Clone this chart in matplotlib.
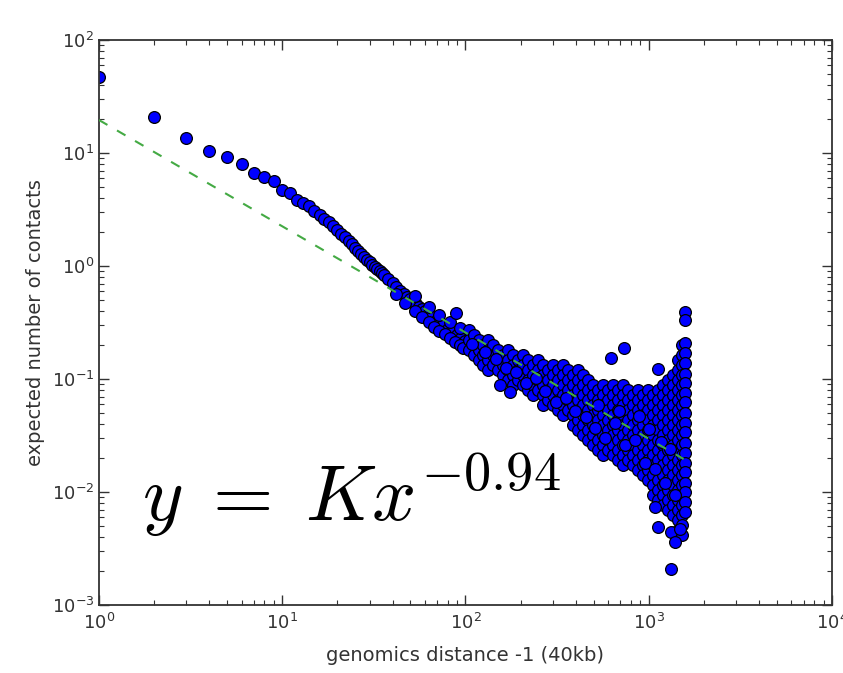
import matplotlib
matplotlib.use("Agg")
import matplotlib.pyplot as plt

# ---- data ----
head_x = [1, 2, 3, 4, 5, 6, 7, 8, 9, 10, 11, 12, 13, 14, 15, 16, 17, 18, 19, 20,
          21, 22, 23, 24, 25, 26, 27, 28, 29, 30, 31, 32, 33, 34, 35, 36, 38, 40,
          42, 44, 46, 48, 50, 52, 54, 56, 58, 60, 65, 70, 75, 80, 85, 90, 95, 100]
head_y = [46.8, 20.9, 13.5, 10.5, 9.27, 8.0, 6.65, 6.1, 5.65, 4.7, 4.4, 3.84, 3.61,
          3.37, 3.07, 2.83, 2.61, 2.45, 2.26, 2.08, 1.92, 1.81, 1.66, 1.57, 1.44,
          1.36, 1.28, 1.20, 1.13, 1.08, 1.02, 0.98, 0.94, 0.90, 0.87, 0.83, 0.77,
          0.71, 0.65, 0.60, 0.565, 0.53, 0.51, 0.48, 0.46, 0.43, 0.416, 0.40, 0.36,
          0.33, 0.30, 0.28, 0.27, 0.245, 0.23, 0.217]

spread_x = [42, 47, 53, 53, 58, 63, 63, 67, 72, 72, 77, 82, 82, 88, 93, 93, 97]
spread_y = [0.565, 0.471, 0.40, 0.543, 0.354, 0.319, 0.433, 0.288, 0.266, 0.368,
            0.25, 0.231, 0.319, 0.212, 0.20, 0.282, 0.188]

cloud_x = [104, 111, 118, 125, 133, 142, 151, 161, 171, 182, 194, 207, 220, 234,
           249, 265, 282, 301, 320, 341, 363, 386, 411, 438, 466, 496, 528, 562,
           598, 637, 679, 722, 769, 819, 871, 927, 988, 1051, 1119, 1191, 1268,
           1350, 1438, 1511, 1570]
cloud_y = [
    [0.271, 0.221, 0.181],
    [0.245, 0.200, 0.163],
    [0.221, 0.181, 0.147],
    [0.200, 0.163, 0.133],
    [0.221, 0.181, 0.147, 0.120],
    [0.200, 0.163, 0.133],
    [0.181, 0.147, 0.120],
    [0.163, 0.133, 0.108],
    [0.181, 0.147, 0.120, 0.098],
    [0.163, 0.133, 0.108, 0.0885],
    [0.147, 0.120, 0.098],
    [0.163, 0.133, 0.108, 0.0885],
    [0.147, 0.120, 0.098, 0.080],
    [0.133, 0.108, 0.0885, 0.0722],
    [0.147, 0.120, 0.098, 0.080],
    [0.133, 0.108, 0.0885, 0.0722, 0.0589],
    [0.120, 0.098, 0.080, 0.0652],
    [0.133, 0.108, 0.0885, 0.0722, 0.0589],
    [0.120, 0.098, 0.080, 0.0652, 0.0532],
    [0.133, 0.108, 0.0885, 0.0722, 0.0589, 0.048],
    [0.120, 0.098, 0.080, 0.0652, 0.0532],
    [0.108, 0.0885, 0.0722, 0.0589, 0.048, 0.0392],
    [0.120, 0.098, 0.080, 0.0652, 0.0532, 0.0434, 0.0354],
    [0.108, 0.0885, 0.0722, 0.0589, 0.048, 0.0392, 0.0319],
    [0.098, 0.080, 0.0652, 0.0532, 0.0434, 0.0354, 0.0288],
    [0.0885, 0.0722, 0.0589, 0.048, 0.0392, 0.0319, 0.0261],
    [0.080, 0.0652, 0.0532, 0.0434, 0.0354, 0.0288, 0.0235],
    [0.0885, 0.0722, 0.0589, 0.048, 0.0392, 0.0319, 0.0261, 0.0212],
    [0.080, 0.0652, 0.0532, 0.0434, 0.0354, 0.0288, 0.0235],
    [0.0885, 0.0722, 0.0589, 0.048, 0.0392, 0.0319, 0.0261, 0.0212],
    [0.080, 0.0652, 0.0532, 0.0434, 0.0354, 0.0288, 0.0235, 0.0192],
    [0.0885, 0.0722, 0.0589, 0.048, 0.0392, 0.0319, 0.0261, 0.0212, 0.0173],
    [0.080, 0.0652, 0.0532, 0.0434, 0.0354, 0.0288, 0.0235, 0.0192],
    [0.0722, 0.0589, 0.048, 0.0392, 0.0319, 0.0261, 0.0212, 0.0173],
    [0.080, 0.0652, 0.0532, 0.0434, 0.0354, 0.0288, 0.0235, 0.0192, 0.0157],
    [0.0722, 0.0589, 0.048, 0.0392, 0.0319, 0.0261, 0.0212, 0.0173, 0.0141],
    [0.080, 0.0652, 0.0532, 0.0434, 0.0354, 0.0288, 0.0235, 0.0192, 0.0157, 0.0128],
    [0.0722, 0.0589, 0.048, 0.0392, 0.0319, 0.0261, 0.0212, 0.0173, 0.0141, 0.0115,
     0.0094],
    [0.080, 0.0652, 0.0532, 0.0434, 0.0354, 0.0288, 0.0235, 0.0192, 0.0157, 0.0128,
     0.0104, 0.0085],
    [0.0885, 0.0722, 0.0589, 0.048, 0.0392, 0.0319, 0.0261, 0.0212, 0.0173, 0.0141,
     0.0115, 0.0094, 0.0077],
    [0.098, 0.080, 0.0652, 0.0532, 0.0434, 0.0354, 0.0288, 0.0235, 0.0192, 0.0157,
     0.0128, 0.0104, 0.0085, 0.0069],
    [0.108, 0.0885, 0.0722, 0.0589, 0.048, 0.0392, 0.0319, 0.0261, 0.0212, 0.0173,
     0.0141, 0.0115, 0.0094, 0.0077, 0.0063],
    [0.147, 0.120, 0.098, 0.080, 0.0652, 0.0532, 0.0434, 0.0354, 0.0288, 0.0235,
     0.0192, 0.0157, 0.0128, 0.0104, 0.0085, 0.0069, 0.0057, 0.0046],
    [0.200, 0.163, 0.133, 0.108, 0.0885, 0.0722, 0.0589, 0.048, 0.0392, 0.0319,
     0.0261, 0.0212, 0.0173, 0.0141, 0.0115, 0.0094, 0.0077, 0.0063, 0.0051, 0.0042],
    [0.21, 0.17, 0.14, 0.11, 0.093, 0.076, 0.062, 0.050, 0.041, 0.034, 0.027, 0.022,
     0.018, 0.015, 0.012, 0.010, 0.0081, 0.0066],
]

# in-between points that break up the regular pattern of the cloud
fill_x = [108, 128, 146, 166, 188, 214, 242, 273, 310, 352, 398, 452, 512, 580,
          658, 745, 845, 957, 1085, 1230, 1395, 530, 690, 880, 1000, 1160, 1300]
fill_y = [0.205, 0.175, 0.15, 0.125, 0.115, 0.093, 0.102, 0.079, 0.062, 0.068,
          0.052, 0.046, 0.037, 0.030, 0.041, 0.026, 0.029, 0.018, 0.016, 0.012,
          0.0095, 0.059, 0.052, 0.047, 0.036, 0.028, 0.024]

outlier_x = [89, 155, 176, 621, 731, 1119, 1079, 1119, 1318, 1385, 1473, 1318, 1570, 1570]
outlier_y = [0.384, 0.0885, 0.077, 0.155, 0.19, 0.123, 0.0074, 0.0049, 0.0044,
             0.0036, 0.0047, 0.0021, 0.39, 0.33]

fit_x = [1, 1550]
fit_y = [19.6, 0.0196]

formula = r"$y\;=\;Kx^{-0.94}$"
x_label = "genomics distance -1 (40kb)"
y_label = "expected number of contacts"

# ---- figure ----
plt.rcParams["font.family"] = ["DejaVu Sans"]
plt.rcParams["mathtext.fontset"] = "dejavusans"

fig = plt.figure(figsize=(8.43, 6.73), dpi=100)
ax = fig.add_axes([0.1174, 0.101, 0.8695, 0.8395])

xs = list(head_x) + list(spread_x)
ys = list(head_y) + list(spread_y)
for cx, col in zip(cloud_x, cloud_y):
    xs += [cx] * len(col)
    ys += col
xs += fill_x + outlier_x
ys += fill_y + outlier_y

ax.scatter(xs, ys, s=72, c="#0000ff", edgecolors="black", linewidths=0.9, zorder=2)
ax.plot(fit_x, fit_y, linestyle=(0, (4.7, 5.3)), color="#44aa44", lw=1.5, zorder=3)

ax.set_xscale("log")
ax.set_yscale("log")
ax.set_xlim(1, 1e4)
ax.set_ylim(1e-3, 1e2)

ax.tick_params(which="both", direction="in", top=True, right=True, colors="#333333",
               labelsize=13)
ax.tick_params(which="major", length=7, width=1)
ax.tick_params(which="minor", length=3.5, width=0.8)
ax.tick_params(axis="x", pad=6)
for sp in ax.spines.values():
    sp.set_color("#333333")
    sp.set_linewidth(1.3)

ax.set_xlabel(x_label, fontsize=14, color="#333333", labelpad=9)
ax.set_ylabel(y_label, fontsize=14, color="#333333", labelpad=5)

fig.text(0.168, 0.227, formula, fontsize=56, math_fontfamily="cm",
         ha="left", va="baseline", color="black")

fig.savefig("out.png", dpi=100)
